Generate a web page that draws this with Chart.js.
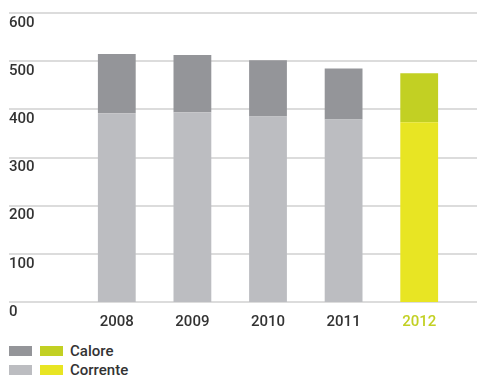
<!DOCTYPE html>
<html>
<head>
<meta charset="utf-8">
<script src="https://cdn.jsdelivr.net/npm/chart.js@4"></script>
<style>
  html, body { margin:0; padding:0; background:#fff; }
  #wrap { position:relative; width:477px; height:378px; font-family:Roboto, sans-serif; }
  #c { position:absolute; left:0; top:0; }
  .leg-row { position:absolute; left:9px; display:flex; align-items:center; height:12px; }
  .sw { width:23px; height:10px; margin-right:8px; }
  .leg-txt { font-size:15px; color:#333; font-weight:500; margin-left:-1px; }
</style>
</head>
<body>
<div id="wrap">
  <canvas id="c" width="477" height="334"></canvas>
  <div class="leg-row" style="top:345px;"><div class="sw" id="sw-cal-a"></div><div class="sw" id="sw-cal-b"></div><span class="leg-txt">Calore</span></div>
  <div class="leg-row" style="top:364px;"><div class="sw" id="sw-cor-a"></div><div class="sw" id="sw-cor-b"></div><span class="leg-txt">Corrente</span></div>
</div>
<script>
'use strict';

const years = ['2008', '2009', '2010', '2011', '2012'];
const corrente = [392, 394, 385, 379, 373];
const calore = [123, 119, 117, 106, 102];
const yTicks = [0, 100, 200, 300, 400, 500, 600];

const GREY_DARK = '#949599', GREY_LIGHT = '#bcbdc1';
const GREEN_DARK = '#c2d023', GREEN_LIGHT = '#e8e523';
const TXT = '#333333';

const $ = id => document.getElementById(id);
$('sw-cal-a').style.background = GREY_DARK;
$('sw-cal-b').style.background = GREEN_DARK;
$('sw-cor-a').style.background = GREY_LIGHT;
$('sw-cor-b').style.background = GREEN_LIGHT;

const last = years.length - 1;
const colorsFor = (grey, green) => years.map((y, i) => i === last ? green : grey);

// gridlines run the full width, under the bars
const fullGrid = {
  id: 'fullGrid',
  beforeDatasetsDraw(chart) {
    const ctx = chart.ctx, ys = chart.scales.y;
    ctx.save();
    ctx.strokeStyle = '#dcdcdc';
    ctx.lineWidth = 2;
    yTicks.forEach(v => {
      const py = Math.round(ys.getPixelForValue(v));
      ctx.beginPath();
      ctx.moveTo(9, py);
      ctx.lineTo(chart.width, py);
      ctx.stroke();
    });
    ctx.restore();
  }
};

new Chart($('c'), {
  type: 'bar',
  data: {
    labels: years,
    datasets: [
      { label: 'Corrente', data: corrente, backgroundColor: colorsFor(GREY_LIGHT, GREEN_LIGHT) },
      { label: 'Calore', data: calore, backgroundColor: colorsFor(GREY_DARK, GREEN_DARK) }
    ]
  },
  options: {
    responsive: false,
    animation: false,
    layout: { padding: { left: 9, right: 20, top: 13, bottom: 0 } },
    plugins: { legend: { display: false }, tooltip: { enabled: false } },
    datasets: { bar: { barPercentage: 0.5, categoryPercentage: 1.0 } },
    scales: {
      x: {
        stacked: true,
        grid: { display: false },
        border: { display: false },
        ticks: {
          padding: 3,
          font: { family: 'Roboto', size: 15, weight: 500 },
          color: ctx => ctx.index === last ? GREEN_DARK : TXT
        }
      },
      y: {
        stacked: true,
        min: 0, max: 600,
        grid: { display: false },
        border: { display: false },
        afterFit: s => { s.width = 70; },
        ticks: {
          stepSize: 100,
          crossAlign: 'far',
          labelOffset: 10,
          padding: 0,
          font: { family: 'Roboto', size: 15, weight: 500 },
          color: TXT
        }
      }
    }
  },
  plugins: [fullGrid]
});
</script>
</body>
</html>
